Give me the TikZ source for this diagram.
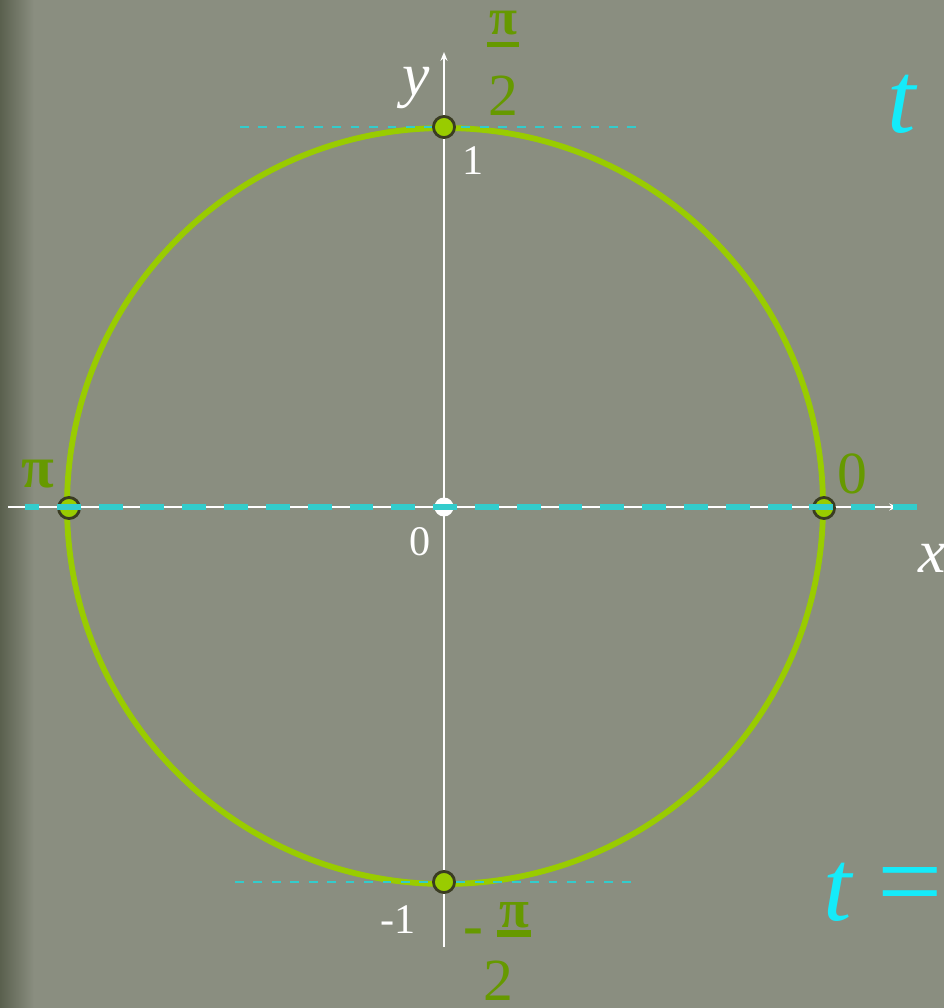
\documentclass[tikz,border=0pt]{standalone}
\usepackage{fontspec}
\setmainfont{Liberation Serif}
\usetikzlibrary{arrows.meta}

\definecolor{board}{RGB}{138,142,128}
\definecolor{boardedge}{RGB}{90,96,78}
\definecolor{arcgreen}{RGB}{153,204,0}
\definecolor{labelgreen}{RGB}{102,153,0}
\definecolor{pointrim}{RGB}{58,60,34}
\definecolor{dashcyan}{RGB}{51,204,204}
\definecolor{tcyan}{RGB}{20,235,250}

\begin{document}
\begin{tikzpicture}[
  x=0.02cm, y=-0.02cm,
  axis/.style={white,line width=1.1pt,-{Stealth[length=5pt,width=4pt]}},
  tick/.style={white,font=\fontsize{24}{24}\selectfont,inner sep=0pt},
  axislabel/.style={white,font=\fontsize{35}{35}\selectfont\itshape,inner sep=0pt},
  anglelabel/.style={labelgreen,font=\fontsize{34}{34}\selectfont\bfseries,inner sep=0pt,anchor=base},
  fracbar/.style={labelgreen},
  point/.style={circle,draw=pointrim,line width=1.6pt,fill=arcgreen,minimum size=12pt,inner sep=0pt},
  origindot/.style={circle,fill=white,minimum size=10.8pt,inner sep=0pt},
  bigdash/.style={dashcyan,line width=3.4pt,dash pattern=on 13.6pt off 10.2pt,dash phase=5.7pt},
  thindash/.style={dashcyan,line width=1.3pt,dash pattern=on 5pt off 5.5pt},
  tlabel/.style={tcyan,font=\fontsize{58}{58}\selectfont,inner sep=0pt}
]
  % board
  \useasboundingbox (0,0) rectangle (944,1008);
  \clip (0,0) rectangle (944,1008);
  \fill[board] (0,0) rectangle (944,1008);
  \shade[left color=boardedge,right color=board] (0,0) rectangle (34,1008);

  % unit circle
  \coordinate (centre) at (445,506);
  \draw[arcgreen,line width=3.3pt] (centre) circle[radius=378];

  % tangent lines
  \coordinate (top-l) at (240,127);
  \coordinate (top-r) at (645,127);
  \coordinate (bot-l) at (235,882);
  \coordinate (bot-r) at (640,882);
  \draw[thindash] (top-l) -- (top-r);
  \draw[thindash] (bot-l) -- (bot-r);

  % axes
  \coordinate (x-from) at (8,507);
  \coordinate (x-to) at (898,507);
  \coordinate (y-from) at (444,947);
  \coordinate (y-to) at (444,52);
  \draw[axis] (x-from) -- (x-to);
  \draw[axis] (y-from) -- (y-to);

  % points
  \node[origindot] (origin) at (444,507) {};
  \node[point] (p-top) at (444,127) {};
  \node[point] (p-bot) at (444,882) {};
  \node[point] (p-left) at (69,508) {};
  \node[point] (p-right) at (824,508) {};

  % the t-line on the x axis
  \coordinate (t-from) at (25,507);
  \coordinate (t-to) at (921,507);
  \draw[bigdash] (t-from) -- (t-to);

  % axis labels
  \node[axislabel] (y-name) at (416,88) {y};
  \node[axislabel] (x-name) at (932,558) {x};
  \node[tick] (one) at (473,161) {1};
  \node[tick] (zero) at (420,542) {0};
  \node[tick] (minus-one) at (398,920) {-1};

  % angle labels
  \node[anglelabel,font=\fontsize{29}{29}\selectfont\bfseries] (pi-top) at (503,34) {π};
  \fill[fracbar] (487,42) rectangle (519,47);
  \node[anglelabel,font=\fontsize{34}{34}\selectfont] (two-top) at (503,115) {2};
  \node[anglelabel] (pi-left) at (38,487) {π};
  \node[anglelabel,font=\fontsize{34}{34}\selectfont] (zero-right) at (852,493) {0};
  \node[anglelabel] (minus) at (473,945) {-};
  \node[anglelabel,font=\fontsize{31}{31}\selectfont\bfseries] (pi-bot) at (514,927) {π};
  \fill[fracbar] (497,930) rectangle (531,937);
  \node[anglelabel,font=\fontsize{34}{34}\selectfont] (two-bot) at (498,1000) {2};

  % t
  \node[tlabel] (t-top) at (902,104) {\itshape t};
  \node[tlabel,anchor=west] (t-eq) at (823,892) {{\itshape t} \fontsize{66}{66}\selectfont=};
\end{tikzpicture}
\end{document}
